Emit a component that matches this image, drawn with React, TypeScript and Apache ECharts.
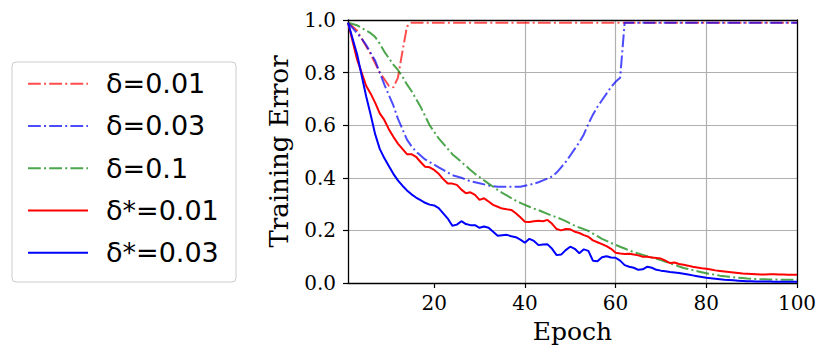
import React, { useEffect, useRef } from "react";
import * as echarts from "echarts";

const epochs: number[] = Array.from({ length: 100 }, (_, i) => i + 1);

const d001: number[] = [
  0.99, 0.975, 0.96, 0.93, 0.9, 0.87, 0.835, 0.8, 0.775, 0.75,
  0.744, 0.78, 0.88, 0.975, 0.99, 0.99, 0.99, 0.99, 0.99, 0.99,
  0.99, 0.99, 0.99, 0.99, 0.99, 0.99, 0.99, 0.99, 0.99, 0.99,
  0.99, 0.99, 0.99, 0.99, 0.99, 0.99, 0.99, 0.99, 0.99, 0.99,
  0.99, 0.99, 0.99, 0.99, 0.99, 0.99, 0.99, 0.99, 0.99, 0.99,
  0.99, 0.99, 0.99, 0.99, 0.99, 0.99, 0.99, 0.99, 0.99, 0.99,
  0.99, 0.99, 0.99, 0.99, 0.99, 0.99, 0.99, 0.99, 0.99, 0.99,
  0.99, 0.99, 0.99, 0.99, 0.99, 0.99, 0.99, 0.99, 0.99, 0.99,
  0.99, 0.99, 0.99, 0.99, 0.99, 0.99, 0.99, 0.99, 0.99, 0.99,
  0.99, 0.99, 0.99, 0.99, 0.99, 0.99, 0.99, 0.99, 0.99, 0.99,
];

const d003: number[] = [
  0.99, 0.97, 0.95, 0.93, 0.905, 0.875, 0.845, 0.8, 0.755, 0.715,
  0.675, 0.625, 0.585, 0.545, 0.52, 0.5, 0.485, 0.47, 0.46, 0.45,
  0.44, 0.43, 0.42, 0.41, 0.405, 0.4, 0.393, 0.387, 0.383, 0.379,
  0.375, 0.371, 0.368, 0.366, 0.366, 0.366, 0.366, 0.366, 0.366, 0.37,
  0.373, 0.378, 0.383, 0.39, 0.397, 0.405, 0.42, 0.44, 0.46, 0.485,
  0.51, 0.535, 0.565, 0.605, 0.64, 0.67, 0.695, 0.72, 0.745, 0.765,
  0.78, 0.99, 0.99, 0.99, 0.99, 0.99, 0.99, 0.99, 0.99, 0.99,
  0.99, 0.99, 0.99, 0.99, 0.99, 0.99, 0.99, 0.99, 0.99, 0.99,
  0.99, 0.99, 0.99, 0.99, 0.99, 0.99, 0.99, 0.99, 0.99, 0.99,
  0.99, 0.99, 0.99, 0.99, 0.99, 0.99, 0.99, 0.99, 0.99, 0.99,
];

const d01: number[] = [
  0.99, 0.985, 0.98, 0.97, 0.96, 0.95, 0.935, 0.91, 0.88, 0.855,
  0.83, 0.81, 0.785, 0.755, 0.73, 0.7, 0.67, 0.635, 0.6, 0.575,
  0.55, 0.53, 0.51, 0.49, 0.475, 0.46, 0.445, 0.43, 0.415, 0.403,
  0.39, 0.378, 0.366, 0.354, 0.343, 0.333, 0.323, 0.313, 0.305, 0.297,
  0.29, 0.283, 0.277, 0.27, 0.263, 0.256, 0.25, 0.243, 0.235, 0.226,
  0.218, 0.211, 0.205, 0.198, 0.188, 0.178, 0.168, 0.16, 0.152, 0.145,
  0.138, 0.131, 0.124, 0.117, 0.112, 0.107, 0.102, 0.097, 0.092, 0.087,
  0.081, 0.075, 0.069, 0.063, 0.057, 0.053, 0.049, 0.045, 0.041, 0.037,
  0.034, 0.031, 0.028, 0.026, 0.024, 0.022, 0.02, 0.019, 0.017, 0.016,
  0.015, 0.014, 0.014, 0.013, 0.013, 0.013, 0.012, 0.012, 0.012, 0.012,
];

const ds001: number[] = [
  0.99, 0.92, 0.85, 0.8, 0.75, 0.72, 0.685, 0.645, 0.62, 0.585,
  0.556, 0.53, 0.51, 0.49, 0.49, 0.48, 0.46, 0.442, 0.44, 0.43,
  0.415, 0.395, 0.378, 0.378, 0.373, 0.355, 0.341, 0.345, 0.335, 0.316,
  0.322, 0.31, 0.297, 0.29, 0.283, 0.28, 0.278, 0.265, 0.25, 0.233,
  0.232, 0.235, 0.237, 0.235, 0.24, 0.225, 0.205, 0.2, 0.205, 0.204,
  0.195, 0.19, 0.182, 0.176, 0.162, 0.155, 0.148, 0.14, 0.13, 0.115,
  0.112, 0.11, 0.111, 0.108, 0.105, 0.1, 0.1, 0.097, 0.095, 0.093,
  0.085, 0.076, 0.078, 0.072, 0.069, 0.066, 0.062, 0.059, 0.056, 0.054,
  0.051, 0.048, 0.046, 0.044, 0.042, 0.04, 0.038, 0.036, 0.035, 0.034,
  0.033, 0.032, 0.032, 0.033, 0.033, 0.032, 0.032, 0.031, 0.031, 0.031,
];

const ds003: number[] = [
  0.99, 0.93, 0.87, 0.79, 0.71, 0.64, 0.565, 0.51, 0.475, 0.445,
  0.415, 0.39, 0.37, 0.352, 0.337, 0.325, 0.315, 0.305, 0.298, 0.295,
  0.285, 0.265, 0.245, 0.218, 0.222, 0.235, 0.224, 0.22, 0.22, 0.21,
  0.215, 0.21, 0.195, 0.18, 0.182, 0.183, 0.178, 0.174, 0.165, 0.153,
  0.168, 0.16, 0.144, 0.146, 0.147, 0.13, 0.106, 0.108, 0.125, 0.138,
  0.13, 0.113, 0.128, 0.122, 0.085, 0.083, 0.098, 0.102, 0.097, 0.096,
  0.085, 0.068, 0.062, 0.058, 0.05, 0.052, 0.062, 0.058, 0.05, 0.047,
  0.045, 0.042, 0.04, 0.038, 0.035, 0.032, 0.029, 0.026, 0.023, 0.02,
  0.018, 0.016, 0.014, 0.012, 0.011, 0.01, 0.009, 0.008, 0.007, 0.007,
  0.006, 0.006, 0.006, 0.006, 0.005, 0.005, 0.005, 0.005, 0.005, 0.005,
];

const xTicks: number[] = [20, 40, 60, 80, 100];
const seriesNames: string[] = ["δ=0.01", "δ=0.03", "δ=0.1", "δ*=0.01", "δ*=0.03"];

const SERIF = "'DejaVu Serif', serif";
const SANS = "'DejaVu Sans', sans-serif";
const DASHDOT = [12.8, 3.2, 2, 3.2];

export default function App() {
  const ref = useRef<HTMLDivElement>(null);
  useEffect(() => {
    if (!ref.current) return;
    const chart = echarts.init(ref.current, null, { renderer: "svg" });
    const pair = (arr: number[]) => epochs.map((e, i) => [e, arr[i]]);
    const mk = (name: string, data: number[], color: string, dashed: boolean) => ({
      name,
      type: "line",
      data: pair(data),
      symbol: "none",
      showSymbol: false,
      lineStyle: { color, width: 2, type: dashed ? DASHDOT : "solid" },
      itemStyle: { color },
      z: 3,
    });
    chart.setOption({
      animation: false,
      grid: { left: 348, right: 33, top: 20, bottom: 76, containLabel: false },
      graphic: [
        {
          type: "rect",
          z: 0,
          shape: { x: 12, y: 62, width: 224, height: 220, r: 4 },
          style: { fill: "#fff", stroke: "#cccccc", lineWidth: 1 },
        },
      ],
      legend: {
        orient: "vertical",
        left: 22,
        top: 57.5,
        z: 10,
        itemWidth: 60,
        itemHeight: 2,
        itemGap: 0,
        itemStyle: { opacity: 0 },
        data: seriesNames,
        textStyle: { fontFamily: SANS, fontSize: 27, color: "#000", lineHeight: 42.3, padding: [0, 0, 0, 13] },
      },
      xAxis: [
        {
          type: "value",
          min: 1,
          max: 100,
          name: "Epoch",
          nameLocation: "middle",
          nameGap: 36,
          nameTextStyle: { fontFamily: SERIF, fontSize: 25, color: "#000" },
          axisLine: { show: true, onZero: false, lineStyle: { color: "#000", width: 1.3 } },
          axisTick: { show: true, inside: false, length: 5, customValues: xTicks, lineStyle: { color: "#000", width: 1.2 } },
          axisLabel: { customValues: xTicks, fontFamily: SERIF, fontSize: 20, color: "#000", margin: 10 },
          splitLine: { show: true, showMinLine: false, showMaxLine: false, lineStyle: { color: "#b0b0b0", width: 1.2 } },
        },
        {
          type: "value",
          position: "top",
          min: 1,
          max: 100,
          axisLine: { show: true, onZero: false, lineStyle: { color: "#000", width: 1.3 } },
          axisTick: { show: false },
          axisLabel: { show: false },
          splitLine: { show: false },
        },
      ],
      yAxis: [
        {
          type: "value",
          min: 0,
          max: 1,
          interval: 0.2,
          name: "Training Error",
          nameLocation: "middle",
          nameGap: 56,
          nameTextStyle: { fontFamily: SERIF, fontSize: 26, color: "#000" },
          axisLine: { show: true, onZero: false, lineStyle: { color: "#000", width: 1.3 } },
          axisTick: { show: true, inside: false, length: 5, lineStyle: { color: "#000", width: 1.2 } },
          axisLabel: { fontFamily: SERIF, fontSize: 20, color: "#000", margin: 12, formatter: (v: number) => v.toFixed(1) },
          splitLine: { show: true, showMinLine: false, showMaxLine: false, lineStyle: { color: "#b0b0b0", width: 1.2 } },
        },
        {
          type: "value",
          position: "right",
          min: 0,
          max: 1,
          axisLine: { show: true, onZero: false, lineStyle: { color: "#000", width: 1.3 } },
          axisTick: { show: false },
          axisLabel: { show: false },
          splitLine: { show: false },
        },
      ],
      series: [
        mk(seriesNames[0], d001, "rgba(255,0,0,0.7)", true),
        mk(seriesNames[1], d003, "rgba(0,0,255,0.7)", true),
        mk(seriesNames[2], d01, "rgba(0,128,0,0.7)", true),
        mk(seriesNames[3], ds001, "#ff0000", false),
        mk(seriesNames[4], ds003, "#0000ff", false),
      ],
    });
    return () => chart.dispose();
  }, []);
  return <div ref={ref} style={{ width: 830, height: 359, position: "absolute", left: 0, top: 0 }} />;
}
